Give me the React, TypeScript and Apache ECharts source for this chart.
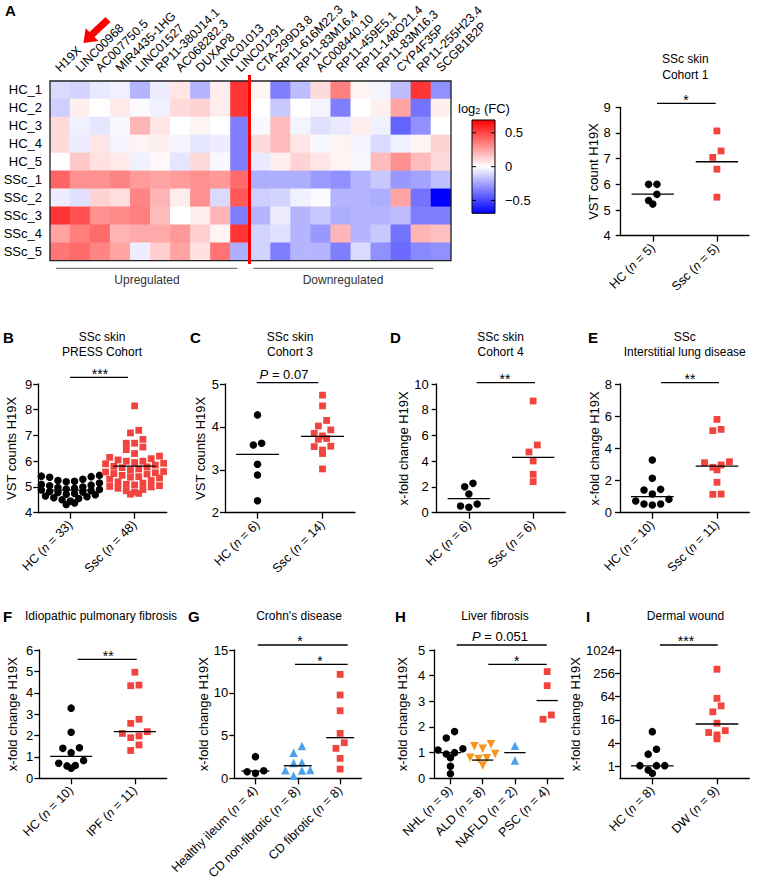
import React, { useEffect, useRef } from 'react';
import * as echarts from 'echarts';

const FONT = '"Liberation Sans", Arial, Helvetica, sans-serif';

// ---------- Panel A heatmap ----------
const genes = ['H19X', 'LINC00968', 'AC007750.5', 'MIR4435-1HG', 'LINC01527', 'RP11-380J14.1', 'AC068282.3', 'DUXAP8', 'LINC01013', 'LINC01291', 'CTA-299D3.8', 'RP11-616M22.3', 'RP11-83M16.4', 'AC008440.10', 'RP11-459E5.1', 'RP11-148O21.4', 'RP11-83M16.3', 'CYP4F35P', 'RP11-255H23.4', 'SCGB1B2P'];
const samples = ['HC_1', 'HC_2', 'HC_3', 'HC_4', 'HC_5', 'SSc_1', 'SSc_2', 'SSc_3', 'SSc_4', 'SSc_5'];
const hc1 = [-0.10, -0.12, -0.06, -0.04, -0.20, -0.05, 0.07, -0.20, 0.05, 0.55, 0.03, -0.35, -0.18, 0.10, 0.35, 0.03, -0.03, -0.18, 0.55, -0.30];
const hc2 = [-0.13, 0.04, 0.00, 0.06, -0.01, -0.04, 0.10, 0.12, 0.05, 0.55, 0.00, -0.15, 0.00, -0.03, -0.35, 0.00, 0.04, 0.25, -0.38, 0.04];
const hc3 = [0.10, -0.04, -0.07, -0.02, 0.20, 0.07, 0.00, 0.03, 0.00, -0.35, -0.02, 0.18, -0.03, -0.08, -0.06, 0.05, -0.04, -0.42, -0.30, 0.00];
const hc4 = [0.10, -0.05, 0.07, -0.03, 0.03, 0.04, -0.03, -0.07, -0.05, -0.35, 0.10, 0.18, 0.07, -0.02, 0.03, -0.03, -0.10, -0.04, 0.03, 0.12];
const hc5 = [0.00, 0.15, 0.08, 0.06, -0.04, 0.02, -0.07, 0.10, -0.02, -0.35, -0.06, 0.05, 0.12, 0.07, 0.03, -0.02, 0.18, 0.30, 0.18, 0.10];
const ssc1 = [0.42, 0.30, 0.30, 0.33, 0.27, 0.25, 0.27, 0.30, 0.28, 0.40, -0.22, -0.22, -0.22, -0.27, -0.30, -0.20, -0.15, -0.28, -0.25, -0.17];
const ssc2 = [-0.05, -0.08, 0.12, 0.09, 0.33, 0.20, 0.05, 0.30, -0.10, 0.45, -0.13, -0.12, -0.04, -0.01, -0.20, -0.20, -0.22, 0.25, -0.38, -0.69];
const ssc3 = [0.55, 0.47, 0.30, 0.32, 0.35, 0.18, 0.00, 0.05, 0.20, -0.35, -0.20, -0.05, -0.20, -0.15, -0.22, -0.20, -0.20, -0.18, -0.35, -0.35];
const ssc4 = [0.25, 0.35, 0.40, 0.20, 0.23, 0.23, 0.28, 0.13, 0.03, 0.55, -0.12, -0.08, -0.20, -0.28, 0.20, -0.20, -0.15, -0.38, 0.20, 0.17];
const ssc5 = [0.37, 0.40, 0.33, 0.25, -0.05, 0.13, 0.25, 0.08, 0.38, -0.22, -0.12, -0.35, -0.20, -0.20, -0.35, -0.10, -0.30, -0.40, -0.32, -0.30];
const heatRows = [hc1, hc2, hc3, hc4, hc5, ssc1, ssc2, ssc3, ssc4, ssc5];
const colorMin = -0.69;
const colorMax = 0.69;
const colorbarTicks = [0.5, 0, -0.5];
const colorbarTickLabels = ['0.5', '0', '\u22120.5'];

// ---------- SSc skin cohort 1 ----------
const cohort1Groups = ['HC', 'Ssc'];
const cohort1N = [5, 5];
const cohort1HC = [6.0, 6.0, 5.61, 5.23, 5.37];
const cohort1SSc = [8.08, 7.30, 7.05, 6.59, 5.50];
const cohort1Lines = [5.62, 6.88];

// ---------- B: PRESS cohort ----------
const pressGroups = ['HC', 'Ssc'];
const pressN = [33, 48];
const pressHC = [5.45, 5.42, 5.40, 5.38, 5.30, 5.25, 5.22, 5.20, 5.15, 5.10, 5.07, 5.05, 5.00, 4.98, 4.95, 4.92, 4.90, 4.88, 4.85, 4.82, 4.80, 4.78, 4.75, 4.72, 4.70, 4.65, 4.62, 4.58, 4.55, 4.50, 4.45, 4.38, 4.32];
const pressSSc = [8.15, 7.20, 7.10, 6.85, 6.70, 6.70, 6.55, 6.45, 6.30, 6.20, 6.15, 6.10, 6.05, 6.00, 6.00, 5.95, 5.92, 5.90, 5.85, 5.80, 5.78, 5.75, 5.70, 5.65, 5.60, 5.58, 5.55, 5.52, 5.50, 5.45, 5.40, 5.38, 5.35, 5.30, 5.25, 5.20, 5.15, 5.10, 5.08, 5.05, 5.02, 5.00, 4.95, 4.90, 4.85, 4.80, 4.75, 4.72];
const pressLines = [4.88, 5.81];

// ---------- C: cohort 3 ----------
const cohort3Groups = ['HC', 'Ssc'];
const cohort3N = [6, 14];
const cohort3HC = [4.28, 3.62, 3.58, 3.13, 2.88, 2.28];
const cohort3SSc = [4.74, 4.49, 4.15, 4.02, 3.93, 3.85, 3.79, 3.71, 3.73, 3.55, 3.54, 3.46, 3.38, 3.02];
const cohort3Lines = [3.36, 3.78];

// ---------- D: cohort 4 ----------
const cohort4Groups = ['HC', 'Ssc'];
const cohort4N = [6, 6];
const cohort4HC = [2.28, 2.02, 1.45, 0.68, 0.52, 0.42];
const cohort4SSc = [8.68, 5.26, 4.72, 4.02, 2.98, 2.41];
const cohort4Lines = [1.09, 4.30];

// ---------- E: ILD ----------
const ildGroups = ['HC', 'Ssc'];
const ildN = [10, 11];
const ildHC = [3.28, 2.14, 1.41, 1.45, 1.16, 0.83, 0.54, 0.48, 0.54, 0.73];
const ildSSc = [5.80, 5.18, 5.10, 3.17, 2.97, 2.66, 2.82, 3.11, 1.89, 1.14, 1.16];
const ildLines = [1.0, 2.9];

// ---------- F: IPF ----------
const ipfGroups = ['HC', 'IPF'];
const ipfN = [10, 11];
const ipfHC = [3.28, 2.15, 1.40, 1.43, 1.20, 0.83, 0.60, 0.47, 0.58, 0.70];
const ipfIPF = [4.96, 4.36, 4.33, 2.76, 2.57, 2.18, 2.10, 1.98, 1.90, 1.56, 1.30];
const ipfLines = [1.03, 2.18];

// ---------- G: Crohn's ----------
const crohnGroups = ['Healthy ileum', 'CD non-fibrotic', 'CD fibrotic'];
const crohnN = [4, 8, 8];
const crohnHealthy = [2.53, 0.89, 0.77, 0.58];
const crohnNonFib = [3.77, 3.00, 1.85, 1.80, 0.97, 0.95, 0.90, 0.30];
const crohnFib = [12.15, 9.74, 7.90, 5.25, 4.16, 3.50, 2.33, 1.08];
const crohnLines = [0.85, 1.47, 4.75];

// ---------- H: liver ----------
const liverGroups = ['NHL', 'ALD', 'NAFLD', 'PSC'];
const liverN = [9, 8, 2, 4];
const liverNHL = [1.82, 1.57, 1.15, 1.10, 1.00, 0.95, 0.80, 0.47, 0.18];
const liverALD = [1.33, 1.25, 1.15, 0.95, 0.80, 0.78, 0.75, 0.50];
const liverNAFLD = [1.27, 0.69];
const liverPSC = [4.16, 3.61, 2.47, 2.30];
const liverLines = [1.0, 0.71, 1.0, 3.03];

// ---------- I: dermal wound ----------
const woundGroups = ['HC', 'DW'];
const woundN = [8, 9];
const woundHC = [8.0, 2.8, 2.1, 1.06, 1.06, 1.06, 0.82, 0.67];
const woundDW = [326, 58, 37, 26, 13.2, 8.5, 7.6, 6.6, 5.2];
const woundLines = [1.05, 12.6];
const woundTicks = [1, 4, 16, 64, 256, 1024];

// ---------- styles ----------
const RED = '#F2443F';
const BLUE = '#4CA3EC';
const ORANGE = '#F7941D';
const STYLES: Record<string, any> = {
  circle: { symbol: 'circle', size: 7.5, color: '#000', rotate: 0 },
  square: { symbol: 'rect', size: 6.8, color: RED, rotate: 0 },
  tri: { symbol: 'triangle', size: 8.5, color: BLUE, rotate: 0 },
  dtri: { symbol: 'triangle', size: 8.5, color: ORANGE, rotate: 180 },
};

function swarm(vals: number[], pxPerUnit: number, maxPerRow: number): number[] {
  const SP = 8.3;
  const ROW = 7;
  const order = vals.map((_, i) => i).sort((a, b) => vals[b] - vals[a]);
  const off = new Array(vals.length).fill(0);
  let k = 0;
  while (k < order.length) {
    const top = vals[order[k]];
    const row = [order[k++]];
    while (k < order.length && row.length < maxPerRow && (top - vals[order[k]]) * pxPerUnit < ROW) row.push(order[k++]);
    row.sort((a, b) => vals[a] - vals[b]);
    const n = row.length;
    const slots: number[] = [];
    if (n % 2 === 1) {
      slots.push(0);
      for (let j = 1; slots.length < n; j++) { slots.push(-j); if (slots.length < n) slots.push(j); }
    } else {
      for (let j = 0; slots.length < n; j++) { slots.push(-(j + 0.5)); slots.push(j + 0.5); }
    }
    row.forEach((id, j) => { off[id] = slots[j] * SP; });
  }
  return off;
}

const panels: any[] = [
  { left: 620.7, top: 107.3, width: 128.3, height: 128.4, yMin: 4, yMax: 9, yInterval: 1, yName: 'VST count H19X', nameGap: 20, labelMargin: 10,
    cats: cohort1Groups, ns: cohort1N, groups: [{ v: cohort1HC, k: 'circle' }, { v: cohort1SSc, k: 'square' }], lines: cohort1Lines },
  { left: 38.3, top: 384, width: 128.4, height: 128.7, yMin: 4, yMax: 9, yInterval: 1, yName: 'VST counts H19X', nameGap: 20, labelMargin: 6,
    cats: pressGroups, ns: pressN, groups: [{ v: pressHC, k: 'circle' }, { v: pressSSc, k: 'square' }], lines: pressLines },
  { left: 225, top: 384, width: 130, height: 128.7, yMin: 2, yMax: 5, yInterval: 1, yName: 'VST counts H19X', nameGap: 18.5, labelMargin: 6,
    cats: cohort3Groups, ns: cohort3N, groups: [{ v: cohort3HC, k: 'circle' }, { v: cohort3SSc, k: 'square' }], lines: cohort3Lines },
  { left: 436.7, top: 384, width: 128.6, height: 128.7, yMin: 0, yMax: 10, yInterval: 2, yName: 'x-fold change H19X', nameGap: 26, labelMargin: 8,
    cats: cohort4Groups, ns: cohort4N, groups: [{ v: cohort4HC, k: 'circle' }, { v: cohort4SSc, k: 'square' }], lines: cohort4Lines },
  { left: 620, top: 384, width: 129.3, height: 128.7, yMin: 0, yMax: 8, yInterval: 2, yName: 'x-fold change H19X', nameGap: 19.5, labelMargin: 8,
    cats: ildGroups, ns: ildN, groups: [{ v: ildHC, k: 'circle' }, { v: ildSSc, k: 'square' }], lines: ildLines },
  { left: 39.3, top: 650, width: 127.4, height: 128.3, yMin: 0, yMax: 6, yInterval: 1, yName: 'x-fold change H19X', nameGap: 20, labelMargin: 6,
    cats: ipfGroups, ns: ipfN, groups: [{ v: ipfHC, k: 'circle' }, { v: ipfIPF, k: 'square' }], lines: ipfLines },
  { left: 234.3, top: 650, width: 127, height: 128.3, yMin: 0, yMax: 15, yInterval: 5, yName: 'x-fold change H19X', nameGap: 18, labelMargin: 6,
    cats: crohnGroups, ns: crohnN, groups: [{ v: crohnHealthy, k: 'circle' }, { v: crohnNonFib, k: 'tri' }, { v: crohnFib, k: 'square' }], lines: crohnLines },
  { left: 434.3, top: 650, width: 129, height: 128.3, yMin: 0, yMax: 5, yInterval: 1, yName: 'x-fold change H19X', nameGap: 25, labelMargin: 9,
    cats: liverGroups, ns: liverN, groups: [{ v: liverNHL, k: 'circle' }, { v: liverALD, k: 'dtri' }, { v: liverNAFLD, k: 'tri' }, { v: liverPSC, k: 'square' }], lines: liverLines },
  { left: 620, top: 650, width: 129.3, height: 128.3, yMin: -1, yMax: 10, log2: true, yTicks: woundTicks, yName: 'x-fold change H19X', nameGap: 26, labelMargin: 5,
    cats: woundGroups, ns: woundN, groups: [{ v: woundHC, k: 'circle' }, { v: woundDW, k: 'square' }], lines: woundLines },
];

const AX = { color: '#000', width: 1.3 };
const HM = { left: 50, top: 81, width: 401, height: 179.7 };

function txt(x: number, y: number, text: string, extra: any = {}, rotation = 0) {
  return {
    type: 'text', x, y, rotation, silent: true, z: 50,
    style: { text, fontSize: 12, fontFamily: FONT, fill: '#000', align: 'center', verticalAlign: 'middle', textAlign: 'center', textVerticalAlign: 'middle', ...extra },
  };
}
function seg(x1: number, y1: number, x2: number, y2: number, stroke = '#000', lineWidth = 1.3) {
  return { type: 'line', silent: true, z: 50, shape: { x1, y1, x2, y2 }, style: { stroke, lineWidth } };
}

function buildOption() {
  const grid: any[] = [];
  const xAxis: any[] = [];
  const yAxis: any[] = [];
  const series: any[] = [];

  // heatmap
  grid.push({ ...HM, outerBoundsMode: 'none', containLabel: false });
  xAxis.push({
    type: 'category', gridIndex: 0, position: 'top', data: genes,
    axisLine: { show: false }, axisTick: { show: false }, splitLine: { show: false }, axisLabel: { show: false },
  });
  yAxis.push({
    type: 'category', gridIndex: 0, inverse: true, data: samples,
    axisLine: { show: false }, axisTick: { show: false }, splitLine: { show: false },
    axisLabel: { interval: 0, margin: 8, fontSize: 13, fontFamily: FONT, color: '#000' },
  });
  const heatData: any[] = [];
  heatRows.forEach((row, r) => row.forEach((v, c) => heatData.push([c, r, v])));
  series.push({ type: 'heatmap', xAxisIndex: 0, yAxisIndex: 0, data: heatData, itemStyle: { borderWidth: 0 }, emphasis: { disabled: true }, silent: true });

  panels.forEach((p) => {
    const gi = grid.length;
    grid.push({ left: p.left, top: p.top, width: p.width, height: p.height, outerBoundsMode: 'none', containLabel: false });
    xAxis.push({
      type: 'category', gridIndex: gi, data: p.cats, boundaryGap: true, position: 'bottom',
      axisLine: { show: true, onZero: false, lineStyle: AX },
      axisTick: { show: true, alignWithLabel: true, length: 6, lineStyle: AX },
      splitLine: { show: false },
      axisLabel: {
        rotate: 45, interval: 0, margin: 10, color: '#000',
        formatter: (v: string, idx: number) => `{t|${v} (}{i|n}{t| = ${p.ns[idx]})}`,
        rich: {
          t: { fontSize: 12.5, fontFamily: FONT, color: '#000' },
          i: { fontSize: 12.5, fontFamily: FONT, fontStyle: 'italic', color: '#000' },
        },
      },
    });
    const xv = xAxis.length;
    xAxis.push({ type: 'value', gridIndex: gi, min: -0.5, max: p.cats.length - 0.5, show: false, position: 'bottom' });
    const yi = yAxis.length;
    const tf = p.log2 ? (v: number) => Math.log2(v) : (v: number) => v;
    const yAx: any = {
      type: 'value', gridIndex: gi, min: p.yMin, max: p.yMax,
      axisLine: { show: true, onZero: false, lineStyle: AX },
      axisTick: { show: true, length: 5, lineStyle: AX },
      splitLine: { show: false },
      axisLabel: { margin: p.labelMargin, fontSize: 13, fontFamily: FONT, color: '#000' },
      name: p.yName, nameLocation: 'middle', nameGap: p.nameGap, nameRotate: 90,
      nameTextStyle: { fontSize: 13, fontFamily: FONT, color: '#000' },
    };
    if (p.log2) {
      const cv = p.yTicks.map((t: number) => Math.log2(t));
      yAx.axisLabel.customValues = cv;
      yAx.axisTick.customValues = cv;
      yAx.axisLabel.formatter = (v: number) => String(Math.round(Math.pow(2, v)));
    } else {
      yAx.interval = p.yInterval;
    }
    yAxis.push(yAx);

    const band = p.width / p.cats.length;
    const pxPerUnit = p.height / (p.yMax - p.yMin);
    const maxPerRow = Math.max(1, Math.floor((band * 1.15) / 8.3));
    p.groups.forEach((g: any, gIdx: number) => {
      const tv = g.v.map(tf);
      const offs = swarm(tv, pxPerUnit, maxPerRow);
      const st = STYLES[g.k];
      series.push({
        type: 'scatter', xAxisIndex: xv, yAxisIndex: yi, silent: true, z: 3,
        symbol: st.symbol, symbolSize: st.size, symbolRotate: st.rotate,
        itemStyle: { color: st.color, opacity: 1 },
        data: tv.map((v: number, i: number) => [gIdx + offs[i] / band, v]),
      });
    });
    series.push({
      type: 'custom', xAxisIndex: xv, yAxisIndex: yi, silent: true, z: 5,
      data: p.lines.map((m: number, i: number) => [i, tf(m)]),
      renderItem: (_params: any, api: any) => {
        const i = api.value(0);
        const m = api.value(1);
        const a = api.coord([i - 0.33, m]);
        const b = api.coord([i + 0.33, m]);
        return { type: 'line', shape: { x1: a[0], y1: a[1], x2: b[0], y2: b[1] }, style: { stroke: '#000', lineWidth: 1.3 } };
      },
    });
  });

  // ---------- graphics ----------
  const g: any[] = [];
  // gene labels (rotated 45deg, starting at each column centre)
  const colW = HM.width / genes.length;
  genes.forEach((name, i) => {
    g.push(txt(HM.left + (i + 0.5) * colW - 2.5, HM.top - 11, name, { fontSize: 12.3, align: 'left', textAlign: 'left' }, Math.PI / 4));
  });
  g.push({ type: 'rect', silent: true, z: 40, shape: { x: HM.left, y: HM.top, width: HM.width, height: HM.height }, style: { fill: 'none', stroke: '#222', lineWidth: 1.3 } });
  g.push(seg(249.5, 75, 249.5, 264, '#FF0000', 3));
  g.push(seg(56, 268.3, 237.3, 268.3, '#555', 1));
  g.push(seg(253.3, 268.3, 433.3, 268.3, '#555', 1));
  g.push(txt(147, 279.5, 'Upregulated', { fill: '#333' }));
  g.push(txt(343, 279.5, 'Downregulated', { fill: '#333' }));
  g.push({
    type: 'polygon', silent: true, z: 50,
    shape: { points: [[110.5, 22], [94.5, 37], [98.4, 40.9], [83.5, 43], [85.6, 28.2], [89.5, 32], [105.5, 17]] },
    style: { fill: '#FF0000' },
  });
  const cbX = 472, cbY = 120, cbW = 23, cbH = 93.3;
  g.push({
    type: 'rect', silent: true, z: 40, shape: { x: cbX, y: cbY, width: cbW, height: cbH },
    style: {
      stroke: '#000', lineWidth: 1,
      fill: { type: 'linear', x: 0, y: 0, x2: 0, y2: 1, colorStops: [{ offset: 0, color: '#FF0000' }, { offset: 0.5, color: '#FFFFFF' }, { offset: 1, color: '#0000FF' }] },
    },
  });
  colorbarTicks.forEach((t, i) => {
    const y = cbY + ((colorMax - t) / (colorMax - colorMin)) * cbH;
    g.push(seg(cbX, y, cbX + 4, y, '#000', 1));
    g.push(seg(cbX + cbW - 4, y, cbX + cbW, y, '#000', 1));
    g.push(txt(505, y, colorbarTickLabels[i], { fontSize: 13, align: 'left', textAlign: 'left' }));
  });
  g.push(txt(458, 108.5, '{a|log}{s|2}{a| (FC)}', {
    align: 'left', textAlign: 'left',
    rich: { a: { fontSize: 13, fontFamily: FONT, fill: '#000' }, s: { fontSize: 9, fontFamily: FONT, fill: '#000', verticalAlign: 'bottom' } },
  }));

  const letters: [string, number, number][] = [['A', 5, 10.5], ['B', 3, 337], ['C', 190, 337], ['D', 390, 337], ['E', 588, 337], ['F', 3, 616], ['G', 188, 616], ['H', 395, 616], ['I', 586, 616]];
  letters.forEach(([l, x, y]) => g.push(txt(x, y, l, { fontSize: 15, fontWeight: 'bold', align: 'left', textAlign: 'left' })));

  const titles: [string, number, number, number][] = [
    ['SSc skin\nCohort 1', 685.3, 67, 16],
    ['SSc skin\nPRESS Cohort', 102, 344.2, 15],
    ['SSc skin\nCohort 3', 290, 344.2, 15],
    ['SSc skin\nCohort 4', 500.6, 344.2, 15],
    ['SSc\nInterstitial lung disease', 684.7, 344.2, 15],
    ['Idiopathic pulmonary fibrosis', 101, 616, 15],
    ["Crohn's disease", 299, 616, 15],
    ['Liver fibrosis', 495, 616, 15],
    ['Dermal wound', 685.5, 616, 15],
  ];
  titles.forEach(([t, x, y, lh]) => g.push(txt(x, y, t, { lineHeight: lh })));

  const star = (x: number, lineY: number, s: string) => txt(x, lineY - 3.8, s, { fontSize: 14 });
  const pval = (x: number, lineY: number, s: string) => txt(x, lineY - 8.5, `{i|P}{t| = ${s}}`, {
    rich: { i: { fontSize: 13, fontFamily: FONT, fontStyle: 'italic', fill: '#000' }, t: { fontSize: 13, fontFamily: FONT, fill: '#000' } },
  });
  g.push(seg(657, 103.3, 715.7, 103.3), star(686, 103.3, '*'));
  g.push(seg(70, 377.3, 128, 377.3), star(100, 377.3, '***'));
  g.push(seg(256.7, 382.7, 318.3, 382.7), pval(284, 382.7, '0.07'));
  g.push(seg(476.7, 382.7, 535, 382.7), star(505, 382.7, '**'));
  g.push(seg(661, 382.7, 719, 382.7), star(690, 382.7, '**'));
  g.push(seg(77.7, 659.3, 136.7, 659.3), star(108.3, 659.3, '**'));
  g.push(seg(257.7, 645, 347.7, 645), star(300, 645, '*'));
  g.push(seg(295, 664.3, 347.7, 664.3), star(320, 664.3, '*'));
  g.push(seg(456.7, 645, 546.7, 645), pval(500, 645, '0.051'));
  g.push(seg(488.3, 664.3, 546.7, 664.3), star(516.7, 664.3, '*'));
  g.push(seg(660, 645, 717.7, 645), star(686, 645, '***'));

  return {
    animation: false,
    backgroundColor: '#fff',
    textStyle: { fontFamily: FONT },
    grid, xAxis, yAxis, series,
    visualMap: [{
      type: 'continuous', show: false, seriesIndex: 0, dimension: 2, min: colorMin, max: colorMax,
      inRange: { color: ['#0000FF', '#FFFFFF', '#FF0000'] },
    }],
    graphic: { elements: g },
  };
}

export default function App() {
  const ref = useRef<HTMLDivElement>(null);
  useEffect(() => {
    const chart = echarts.init(ref.current as HTMLDivElement, null, { renderer: 'svg', width: 758, height: 881 });
    chart.setOption(buildOption() as any);
    return () => chart.dispose();
  }, []);
  return <div ref={ref} style={{ position: 'absolute', left: 0, top: 0, width: 758, height: 881, background: '#fff' }} />;
}
